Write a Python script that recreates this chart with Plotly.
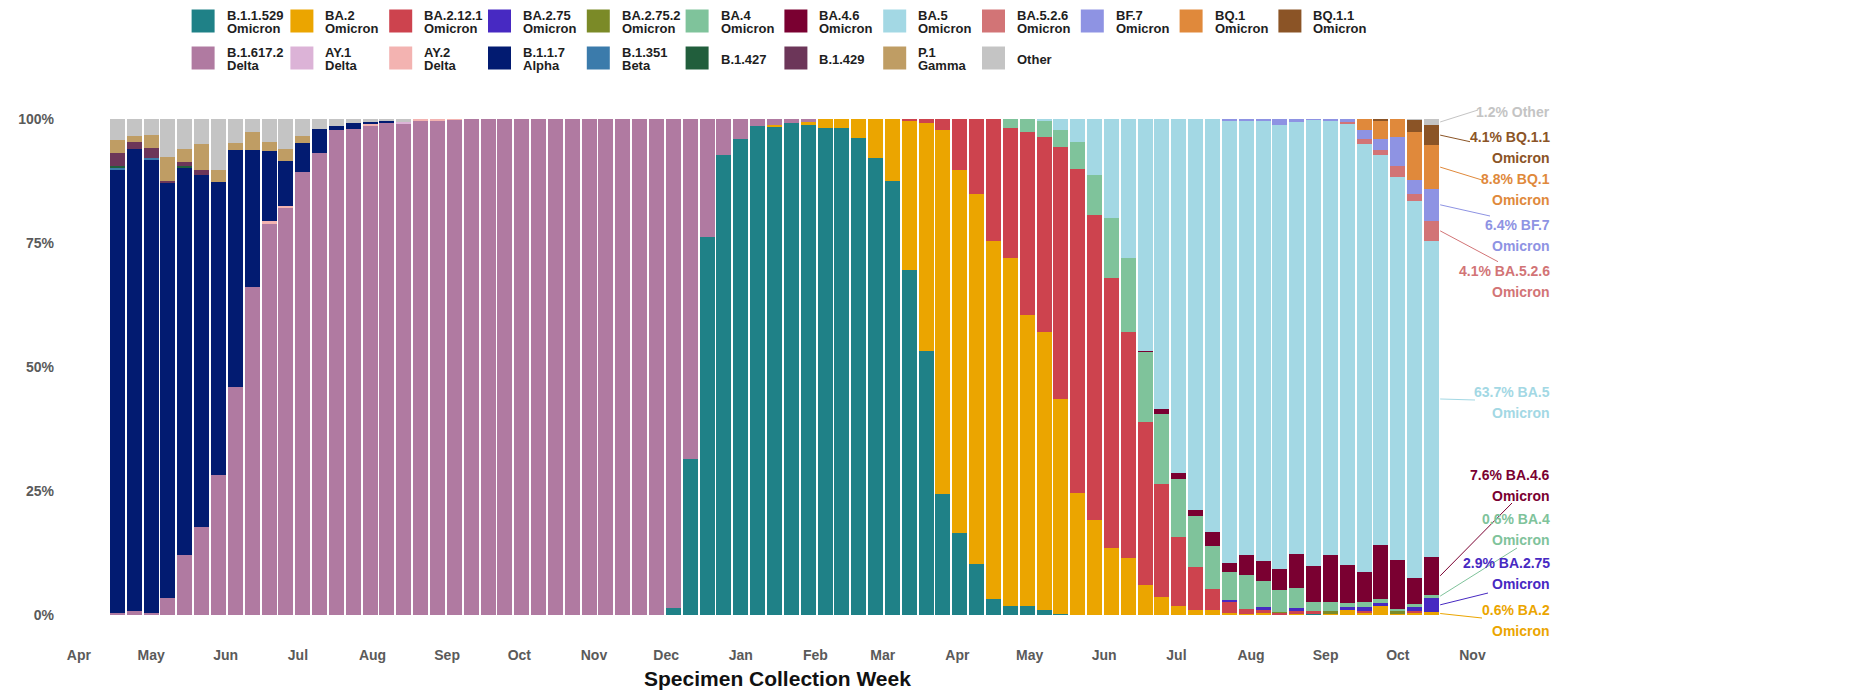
import pandas as pd
import plotly.graph_objects as go

# Week of specimen collection (one stacked bar per week)
weeks = pd.date_range("2021-04-17", periods=79, freq="7D")

# Share of sequenced specimens by lineage, percent per week
b_1_1_529 = [0, 0, 0, 0, 0, 0, 0, 0, 0, 0,
             0, 0, 0, 0, 0, 0, 0, 0, 0, 0,
             0, 0, 0, 0, 0, 0, 0, 0, 0, 0,
             0, 0, 0, 1.5, 31.5, 76.3, 92.8, 96.0, 98.6, 98.3,
             99.2, 98.7, 98.1, 98.1, 96.2, 92.2, 87.5, 69.5, 53.3, 24.3,
             16.5, 10.2, 3.2, 1.9, 1.9, 1.0, 0.3, 0, 0, 0,
             0, 0, 0, 0, 0, 0, 0, 0, 0, 0,
             0, 0.2, 0, 0, 0, 0, 0, 0, 0]
ba_2 = [0, 0, 0, 0, 0, 0, 0, 0, 0, 0,
        0, 0, 0, 0, 0, 0, 0, 0, 0, 0,
        0, 0, 0, 0, 0, 0, 0, 0, 0, 0,
        0, 0, 0, 0, 0, 0, 0, 0, 0, 0.5,
        0, 0.7, 1.9, 1.9, 3.8, 7.8, 12.5, 30.0, 45.8, 73.4,
        73.2, 74.6, 72.2, 70.0, 58.5, 56.0, 43.2, 24.5, 19.1, 13.5,
        11.4, 6.1, 3.7, 1.8, 1.0, 1.0, 0.4, 0.3, 0.5, 0,
        0.3, 0, 0.3, 1.1, 0.5, 1.9, 0.3, 0.5, 0.6]
ba_2_12_1 = [0, 0, 0, 0, 0, 0, 0, 0, 0, 0,
             0, 0, 0, 0, 0, 0, 0, 0, 0, 0,
             0, 0, 0, 0, 0, 0, 0, 0, 0, 0,
             0, 0, 0, 0, 0, 0, 0, 0, 0, 0,
             0, 0, 0, 0, 0, 0, 0, 0.5, 0.9, 2.3,
             10.3, 15.2, 24.6, 26.3, 36.9, 39.4, 50.8, 65.4, 61.6, 54.5,
             45.6, 32.9, 22.8, 13.9, 8.7, 4.2, 2.4, 1.0, 0.7, 0.5,
             0.5, 0.7, 0, 0, 0.3, 0, 0, 0.4, 0]
ba_2_75 = [0, 0, 0, 0, 0, 0, 0, 0, 0, 0,
           0, 0, 0, 0, 0, 0, 0, 0, 0, 0,
           0, 0, 0, 0, 0, 0, 0, 0, 0, 0,
           0, 0, 0, 0, 0, 0, 0, 0, 0, 0,
           0, 0, 0, 0, 0, 0, 0, 0, 0, 0,
           0, 0, 0, 0, 0, 0, 0, 0, 0, 0,
           0, 0, 0, 0, 0, 0, 0.2, 0, 0.4, 0,
           0.7, 0, 0, 0.5, 0.8, 0.5, 0, 0.7, 2.9]
ba_2_75_2 = [0, 0, 0, 0, 0, 0, 0, 0, 0, 0,
             0, 0, 0, 0, 0, 0, 0, 0, 0, 0,
             0, 0, 0, 0, 0, 0, 0, 0, 0, 0,
             0, 0, 0, 0, 0, 0, 0, 0, 0, 0,
             0, 0, 0, 0, 0, 0, 0, 0, 0, 0,
             0, 0, 0, 0, 0, 0, 0, 0, 0, 0,
             0, 0, 0, 0, 0, 0, 0, 0, 0, 0.2,
             0, 0, 0.6, 0, 0, 0, 0.6, 0, 0]
ba_4 = [0, 0, 0, 0, 0, 0, 0, 0, 0, 0,
        0, 0, 0, 0, 0, 0, 0, 0, 0, 0,
        0, 0, 0, 0, 0, 0, 0, 0, 0, 0,
        0, 0, 0, 0, 0, 0, 0, 0, 0, 0,
        0, 0, 0, 0, 0, 0, 0, 0, 0, 0,
        0, 0, 0, 1.8, 2.7, 3.1, 3.5, 5.5, 8.1, 12.0,
        15.0, 14.1, 14.0, 11.8, 10.3, 8.7, 5.6, 6.7, 5.3, 4.4,
        4.0, 1.7, 1.8, 0.9, 1.1, 0.9, 0.3, 0.7, 0.6]
ba_4_6 = [0, 0, 0, 0, 0, 0, 0, 0, 0, 0,
          0, 0, 0, 0, 0, 0, 0, 0, 0, 0,
          0, 0, 0, 0, 0, 0, 0, 0, 0, 0,
          0, 0, 0, 0, 0, 0, 0, 0, 0, 0,
          0, 0, 0, 0, 0, 0, 0, 0, 0, 0,
          0, 0, 0, 0, 0, 0, 0, 0, 0, 0,
          0, 0.2, 1.0, 1.1, 1.2, 2.9, 1.9, 4.0, 3.9, 4.2,
          6.8, 7.2, 9.3, 7.5, 5.9, 10.9, 9.9, 5.2, 7.6]
ba_5 = [0, 0, 0, 0, 0, 0, 0, 0, 0, 0,
        0, 0, 0, 0, 0, 0, 0, 0, 0, 0,
        0, 0, 0, 0, 0, 0, 0, 0, 0, 0,
        0, 0, 0, 0, 0, 0, 0, 0, 0, 0,
        0, 0, 0, 0, 0, 0, 0, 0, 0, 0,
        0, 0, 0, 0, 0, 0.5, 2.2, 4.6, 11.2, 20.0,
        28.0, 46.7, 58.5, 71.4, 78.8, 83.2, 89.2, 87.7, 88.9, 89.4,
        87.0, 90.1, 87.6, 89.0, 86.3, 78.6, 77.3, 76.0, 63.7]
ba_5_2_6 = [0, 0, 0, 0, 0, 0, 0, 0, 0, 0,
            0, 0, 0, 0, 0, 0, 0, 0, 0, 0,
            0, 0, 0, 0, 0, 0, 0, 0, 0, 0,
            0, 0, 0, 0, 0, 0, 0, 0, 0, 0,
            0, 0, 0, 0, 0, 0, 0, 0, 0, 0,
            0, 0, 0, 0, 0, 0, 0, 0, 0, 0,
            0, 0, 0, 0, 0, 0, 0, 0, 0, 0,
            0, 0, 0, 0.3, 1.0, 0.9, 2.2, 1.4, 4.1]
bf_7 = [0, 0, 0, 0, 0, 0, 0, 0, 0, 0,
        0, 0, 0, 0, 0, 0, 0, 0, 0, 0,
        0, 0, 0, 0, 0, 0, 0, 0, 0, 0,
        0, 0, 0, 0, 0, 0, 0, 0, 0, 0,
        0, 0, 0, 0, 0, 0, 0, 0, 0, 0,
        0, 0, 0, 0, 0, 0, 0, 0, 0, 0,
        0, 0, 0, 0, 0, 0, 0.3, 0.3, 0.3, 1.3,
        0.7, 0.1, 0.4, 0.7, 1.9, 2.2, 5.7, 2.8, 6.4]
bq_1 = [0, 0, 0, 0, 0, 0, 0, 0, 0, 0,
        0, 0, 0, 0, 0, 0, 0, 0, 0, 0,
        0, 0, 0, 0, 0, 0, 0, 0, 0, 0,
        0, 0, 0, 0, 0, 0, 0, 0, 0, 0,
        0, 0, 0, 0, 0, 0, 0, 0, 0, 0,
        0, 0, 0, 0, 0, 0, 0, 0, 0, 0,
        0, 0, 0, 0, 0, 0, 0, 0, 0, 0,
        0, 0, 0, 0, 2.2, 3.6, 3.7, 9.6, 8.8]
bq_1_1 = [0, 0, 0, 0, 0, 0, 0, 0, 0, 0,
          0, 0, 0, 0, 0, 0, 0, 0, 0, 0,
          0, 0, 0, 0, 0, 0, 0, 0, 0, 0,
          0, 0, 0, 0, 0, 0, 0, 0, 0, 0,
          0, 0, 0, 0, 0, 0, 0, 0, 0, 0,
          0, 0, 0, 0, 0, 0, 0, 0, 0, 0,
          0, 0, 0, 0, 0, 0, 0, 0, 0, 0,
          0, 0, 0, 0, 0, 0.5, 0, 2.5, 4.1]
b_1_617_2 = [0.4, 0.9, 0.4, 3.4, 12.0, 17.7, 28.3, 45.9, 66.2, 78.9,
             82.1, 89.3, 93.1, 97.7, 97.9, 98.7, 99.3, 99.1, 99.7, 99.7,
             99.8, 100, 100, 100, 100, 100, 100, 100, 100, 100,
             100, 100, 100, 98.5, 68.5, 23.7, 7.2, 4.0, 1.4, 1.2,
             0.8, 0.6, 0, 0, 0, 0, 0, 0, 0, 0,
             0, 0, 0, 0, 0, 0, 0, 0, 0, 0,
             0, 0, 0, 0, 0, 0, 0, 0, 0, 0,
             0, 0, 0, 0, 0, 0, 0, 0, 0]
ay_1 = [0, 0, 0, 0, 0, 0, 0, 0, 0, 0,
        0, 0, 0, 0, 0, 0, 0, 0.3, 0, 0,
        0, 0, 0, 0, 0, 0, 0, 0, 0, 0,
        0, 0, 0, 0, 0, 0, 0, 0, 0, 0,
        0, 0, 0, 0, 0, 0, 0, 0, 0, 0,
        0, 0, 0, 0, 0, 0, 0, 0, 0, 0,
        0, 0, 0, 0, 0, 0, 0, 0, 0, 0,
        0, 0, 0, 0, 0, 0, 0, 0, 0]
ay_2 = [0, 0, 0, 0, 0, 0, 0, 0, 0, 0.6,
        0.4, 0, 0, 0, 0, 0.3, 0, 0, 0.3, 0.3,
        0.2, 0, 0, 0, 0, 0, 0, 0, 0, 0,
        0, 0, 0, 0, 0, 0, 0, 0, 0, 0,
        0, 0, 0, 0, 0, 0, 0, 0, 0, 0,
        0, 0, 0, 0, 0, 0, 0, 0, 0, 0,
        0, 0, 0, 0, 0, 0, 0, 0, 0, 0,
        0, 0, 0, 0, 0, 0, 0, 0, 0]
b_1_1_7 = [89.4, 93.0, 91.5, 83.8, 78.3, 71.1, 58.9, 47.8, 27.5, 14.0,
           9.1, 5.9, 4.8, 0.8, 1.2, 0.3, 0.3, 0, 0, 0,
           0, 0, 0, 0, 0, 0, 0, 0, 0, 0,
           0, 0, 0, 0, 0, 0, 0, 0, 0, 0,
           0, 0, 0, 0, 0, 0, 0, 0, 0, 0,
           0, 0, 0, 0, 0, 0, 0, 0, 0, 0,
           0, 0, 0, 0, 0, 0, 0, 0, 0, 0,
           0, 0, 0, 0, 0, 0, 0, 0, 0]
b_1_351 = [0.5, 0, 0.2, 0, 0, 0, 0, 0, 0, 0,
           0, 0, 0, 0, 0, 0, 0, 0, 0, 0,
           0, 0, 0, 0, 0, 0, 0, 0, 0, 0,
           0, 0, 0, 0, 0, 0, 0, 0, 0, 0,
           0, 0, 0, 0, 0, 0, 0, 0, 0, 0,
           0, 0, 0, 0, 0, 0, 0, 0, 0, 0,
           0, 0, 0, 0, 0, 0, 0, 0, 0, 0,
           0, 0, 0, 0, 0, 0, 0, 0, 0]
b_1_427 = [0.3, 0, 0, 0, 0.3, 0, 0, 0, 0, 0,
           0, 0, 0, 0, 0, 0, 0, 0, 0, 0,
           0, 0, 0, 0, 0, 0, 0, 0, 0, 0,
           0, 0, 0, 0, 0, 0, 0, 0, 0, 0,
           0, 0, 0, 0, 0, 0, 0, 0, 0, 0,
           0, 0, 0, 0, 0, 0, 0, 0, 0, 0,
           0, 0, 0, 0, 0, 0, 0, 0, 0, 0,
           0, 0, 0, 0, 0, 0, 0, 0, 0]
b_1_429 = [2.6, 1.4, 2.0, 0.3, 0.7, 0.9, 0, 0, 0, 0,
           0, 0, 0, 0, 0, 0, 0, 0, 0, 0,
           0, 0, 0, 0, 0, 0, 0, 0, 0, 0,
           0, 0, 0, 0, 0, 0, 0, 0, 0, 0,
           0, 0, 0, 0, 0, 0, 0, 0, 0, 0,
           0, 0, 0, 0, 0, 0, 0, 0, 0, 0,
           0, 0, 0, 0, 0, 0, 0, 0, 0, 0,
           0, 0, 0, 0, 0, 0, 0, 0, 0]
p_1 = [2.5, 1.2, 2.7, 4.8, 2.7, 5.3, 2.5, 1.4, 3.7, 1.8,
       2.4, 1.4, 0, 0, 0, 0, 0, 0, 0, 0,
       0, 0, 0, 0, 0, 0, 0, 0, 0, 0,
       0, 0, 0, 0, 0, 0, 0, 0, 0, 0,
       0, 0, 0, 0, 0, 0, 0, 0, 0, 0,
       0, 0, 0, 0, 0, 0, 0, 0, 0, 0,
       0, 0, 0, 0, 0, 0, 0, 0, 0, 0,
       0, 0, 0, 0, 0, 0, 0, 0, 0]
other = [4.3, 3.5, 3.2, 7.7, 6.0, 5.0, 10.3, 4.9, 2.6, 4.7,
         6.0, 3.4, 2.1, 1.5, 0.9, 0.7, 0.4, 0.6, 0, 0,
         0, 0, 0, 0, 0, 0, 0, 0, 0, 0,
         0, 0, 0, 0, 0, 0, 0, 0, 0, 0,
         0, 0, 0, 0, 0, 0, 0, 0, 0, 0,
         0, 0, 0, 0, 0, 0, 0, 0, 0, 0,
         0, 0, 0, 0, 0, 0, 0, 0, 0, 0,
         0, 0, 0, 0, 0, 0, 0, 0.2, 1.2]

# (lineage, WHO label, colour, values) in stacking order, bottom to top
lineages = [
    ("B.1.1.529", "Omicron", "#1f8187", b_1_1_529),
    ("BA.2", "Omicron", "#eba500", ba_2),
    ("BA.2.12.1", "Omicron", "#cd434e", ba_2_12_1),
    ("BA.2.75", "Omicron", "#4729c2", ba_2_75),
    ("BA.2.75.2", "Omicron", "#7b8a27", ba_2_75_2),
    ("BA.4", "Omicron", "#7fc39b", ba_4),
    ("BA.4.6", "Omicron", "#7a0031", ba_4_6),
    ("BA.5", "Omicron", "#a3d8e4", ba_5),
    ("BA.5.2.6", "Omicron", "#d27476", ba_5_2_6),
    ("BF.7", "Omicron", "#8e93e3", bf_7),
    ("BQ.1", "Omicron", "#e0893b", bq_1),
    ("BQ.1.1", "Omicron", "#8b5426", bq_1_1),
    ("B.1.617.2", "Delta", "#b07aa1", b_1_617_2),
    ("AY.1", "Delta", "#dcb3d7", ay_1),
    ("AY.2", "Delta", "#f3b3b1", ay_2),
    ("B.1.1.7", "Alpha", "#021b71", b_1_1_7),
    ("B.1.351", "Beta", "#3b7bab", b_1_351),
    ("B.1.427", "", "#215e3c", b_1_427),
    ("B.1.429", "", "#6c3659", b_1_429),
    ("P.1", "Gamma", "#bf9d64", p_1),
    ("Other", "", "#c4c4c4", other),
]

FONT = "Arial, Liberation Sans, sans-serif"

# plot area in page pixels
L, R, T, B = 50, 1490, 119, 615
W, H = R - L, B - T
x_start = pd.Timestamp("2021-03-20")
x_end = pd.Timestamp("2022-11-08 07:00")
BARGAP = 0.11


def fx(px):
    return (px - L) / W


def fy(py):
    return (B - py) / H


def date_frac(t):
    return (t - x_start) / (x_end - x_start)


fig = go.Figure()
for name, who, color, vals in lineages:
    fig.add_trace(go.Bar(
        x=weeks, y=vals, name=name, marker_color=color,
        marker_line_width=0, showlegend=False,
        hovertemplate=name + ": %{y:.1f}%<extra></extra>",
    ))

shapes = []
annotations = []

# legend grid: 12 Omicron lineages on the first row, the rest below
for i, (name, who, color, vals) in enumerate(lineages):
    row, col = (0, i) if i < 12 else (1, i - 12)
    left = 191.6 + 98.8 * col
    cy = 21 if row == 0 else 58
    shapes.append(dict(type="rect", xref="paper", yref="paper",
                       x0=fx(left), x1=fx(left + 23),
                       y0=fy(cy - 11.5), y1=fy(cy + 11.5),
                       fillcolor=color, line_width=0))
    lines = [(name, cy - 5.5), (who, cy + 7.5)] if who else [(name, cy + 1)]
    for txt, ty in lines:
        annotations.append(dict(
            text="<b>%s</b>" % txt, xref="paper", yref="paper",
            x=fx(left + 33), y=fy(ty), xanchor="left", yanchor="middle",
            showarrow=False, font=dict(family=FONT, size=13, color="#1e1e1e")))

# call-outs for the latest week: (lineage, first text line y, leader end x, leader end y)
callouts = [
    ("Other", 111.7, 1478, 110),
    ("BQ.1.1", 136.7, 1470, 141.7),
    ("BQ.1", 179, 1482, 180),
    ("BF.7", 225, 1490, 216),
    ("BA.5.2.6", 271, 1498, 261.7),
    ("BA.5", 391.7, 1475, 400),
    ("BA.4.6", 475, 1512, 503),
    ("BA.4", 519, 1517, 548),
    ("BA.2.75", 563, 1488, 593),
    ("BA.2", 610, 1482, 618),
]
last = {}
base = 0.0
for name, who, color, vals in lineages:
    v = vals[-1]
    last[name] = (v, base + v / 2, who, color)
    base += v

bar_right = date_frac(weeks[-1] + pd.Timedelta(days=7 * (1 - BARGAP) / 2))
for name, ty, ex, ey in callouts:
    v, mid, who, color = last[name]
    shapes.append(dict(type="line", xref="paper", yref="paper",
                       x0=bar_right + 0.0008, y0=mid / 100, x1=fx(ex), y1=fy(ey),
                       line=dict(color=color, width=1)))
    rows = [("%.1f%% %s" % (v, name), ty)]
    if who:
        rows.append((who, ty + 21))
    for txt, yy in rows:
        annotations.append(dict(
            text="<b>%s</b>" % txt, xref="paper", yref="paper",
            x=fx(1552), y=fy(yy), xanchor="right", yanchor="middle",
            showarrow=False, font=dict(family=FONT, size=14, color=color)))

annotations.append(dict(
    text="<b>Specimen Collection Week</b>", xref="paper", yref="paper",
    x=fx(777), y=fy(678), xanchor="center", yanchor="middle", showarrow=False,
    font=dict(family=FONT, size=21, color="#111111")))

fig.update_layout(
    width=1874, height=691,
    margin=dict(l=L, r=1874 - R, t=T, b=691 - B, pad=0),
    barmode="stack", bargap=BARGAP,
    plot_bgcolor="white", paper_bgcolor="white",
    shapes=shapes, annotations=annotations,
    font=dict(family=FONT),
    xaxis=dict(type="date", range=[x_start, x_end], tick0="2021-04-01",
               dtick="M1", tickformat="%b", showgrid=False, zeroline=False,
               showline=False, ticks="", ticklabelstandoff=30,
               tickfont=dict(family=FONT, size=14, color="#5a5a5a", weight="bold")),
    yaxis=dict(range=[0, 100], tickvals=[0, 25, 50, 75, 100],
               ticktext=["0%", "25%", "50%", "75%", "100%"],
               showgrid=False, zeroline=False, showline=False, ticks="",
               ticklabelstandoff=-5,
               tickfont=dict(family=FONT, size=14, color="#5a5a5a", weight="bold")),
)

fig.write_html("out.html")
